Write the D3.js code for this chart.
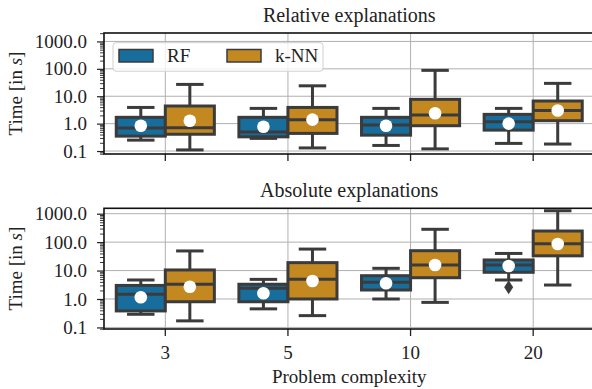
<!DOCTYPE html>
<html>
<head>
<meta charset="utf-8">
<script src="https://cdn.jsdelivr.net/npm/d3@7"></script>
<style>
  body { margin: 0; background: #fff; }
  text { font-family: "Liberation Serif", "Times New Roman", serif; fill: #222; }
</style>
</head>
<body>
<div id="chart"></div>
<script>
const width = 592;
const height = 389;

// categories and series
const categories = ["3", "5", "10", "20"];
const series = ["RF", "k-NN"];
const colors = ["#176d9c", "#c38820"];
const majorTicks = [0.1, 1, 10, 100, 1000];

// boxes: [whisker low, q1, median, q3, whisker high]
const relRF = [[0.25, 0.35, 0.70, 1.7, 3.9], [0.29, 0.33, 0.50, 1.7, 3.6], [0.16, 0.38, 0.90, 1.7, 3.6], [0.19, 0.58, 1.17, 2.18, 3.6]];
const relKNN = [[0.11, 0.41, 0.71, 4.4, 27], [0.13, 0.44, 1.4, 3.9, 24], [0.12, 0.84, 2.06, 7.7, 88], [0.18, 1.28, 3.0, 6.7, 29.5]];
const relRFMean = [0.84, 0.77, 0.84, 1.0];
const relKNNMean = [1.28, 1.4, 2.4, 3.0];

const absRF = [[0.29, 0.38, 1.46, 3.0, 4.66], [0.45, 0.8, 2.4, 3.3, 4.9], [1.0, 2.07, 3.9, 6.6, 12], [4.66, 8.7, 15.7, 23.6, 40]];
const absKNN = [[0.17, 0.8, 3.3, 10.5, 49], [0.26, 1.0, 4.9, 19, 57], [0.76, 5.6, 15.7, 50, 283], [3.1, 33, 88, 246, 1270]];
const absRFMean = [1.15, 1.59, 3.6, 14.5];
const absKNNMean = [2.7, 4.3, 15.7, 86];
const absRFOutliers = [[], [], [], [2.6]];
const absKNNOutliers = [[], [], [], []];

const edge = "#3b3b3b";
const left = 104, right = 594.5;

const svg = d3.select("#chart")
  .append("svg")
  .attr("width", width)
  .attr("height", height);

const x = d3.scaleBand().domain(categories).range([left, right]);
const bw = x.bandwidth();
const xSub = d3.scaleBand().domain(series).range([-bw * 0.4, bw * 0.4]);
const boxW = xSub.bandwidth();
const capW = boxW * 0.56;

function drawPanel(top, bottom, domain, title, boxes, means, outliers, showLabels) {
  const y = d3.scaleLog().domain(domain).range([bottom, top]);
  const g = svg.append("g");

  // grid
  g.selectAll(".hgrid")
    .data(majorTicks)
    .join("line")
    .attr("x1", left).attr("x2", right)
    .attr("y1", d => y(d)).attr("y2", d => y(d))
    .attr("stroke", "#b0b0b0").attr("stroke-width", 1);
  g.selectAll(".vgrid")
    .data(categories)
    .join("line")
    .attr("x1", d => x(d) + bw / 2).attr("x2", d => x(d) + bw / 2)
    .attr("y1", top).attr("y2", bottom)
    .attr("stroke", "#b0b0b0").attr("stroke-width", 1);

  // boxes
  series.forEach((s, si) => {
    const cx = c => x(c) + bw / 2 + xSub(s) + boxW / 2;
    const data = categories.map((c, i) => ({ c, v: boxes[si][i], m: means[si][i], o: outliers[si][i] }));
    const bg = g.append("g");

    bg.selectAll(".whisk")
      .data(data.flatMap(d => [[d, d.v[0], d.v[1]], [d, d.v[3], d.v[4]]]))
      .join("line")
      .attr("x1", d => cx(d[0].c)).attr("x2", d => cx(d[0].c))
      .attr("y1", d => y(d[1])).attr("y2", d => y(d[2]))
      .attr("stroke", edge).attr("stroke-width", 3);

    bg.selectAll(".cap")
      .data(data.flatMap(d => [[d, d.v[0]], [d, d.v[4]]]))
      .join("line")
      .attr("x1", d => cx(d[0].c) - capW / 2).attr("x2", d => cx(d[0].c) + capW / 2)
      .attr("y1", d => y(d[1])).attr("y2", d => y(d[1]))
      .attr("stroke", edge).attr("stroke-width", 3);

    bg.selectAll(".box")
      .data(data)
      .join("rect")
      .attr("x", d => cx(d.c) - boxW / 2)
      .attr("width", boxW)
      .attr("y", d => y(d.v[3]))
      .attr("height", d => y(d.v[1]) - y(d.v[3]))
      .attr("fill", colors[si])
      .attr("stroke", edge).attr("stroke-width", 3);

    bg.selectAll(".med")
      .data(data)
      .join("line")
      .attr("x1", d => cx(d.c) - boxW / 2).attr("x2", d => cx(d.c) + boxW / 2)
      .attr("y1", d => y(d.v[2])).attr("y2", d => y(d.v[2]))
      .attr("stroke", edge).attr("stroke-width", 3);

    bg.selectAll(".out")
      .data(data.flatMap(d => d.o.map(v => [d, v])))
      .join("path")
      .attr("d", d => {
        const px = cx(d[0].c), py = y(d[1]);
        return `M${px},${py - 7}L${px + 4.5},${py}L${px},${py + 7}L${px - 4.5},${py}Z`;
      })
      .attr("fill", edge);

    bg.selectAll(".mean")
      .data(data)
      .join("circle")
      .attr("cx", d => cx(d.c))
      .attr("cy", d => y(d.m))
      .attr("r", 6.3)
      .attr("fill", "#fff");
  });

  // y axis major + minor ticks
  const yAxis = g.append("g")
    .attr("transform", `translate(${left},0)`)
    .call(d3.axisLeft(y).tickValues(majorTicks).tickFormat(d3.format(".1f")).tickSize(7).tickPadding(10));
  yAxis.select(".domain").remove();
  yAxis.selectAll("text").attr("font-size", 19).attr("font-family", "Liberation Serif").attr("fill", "#222");
  yAxis.selectAll("line").attr("stroke", "#222").attr("stroke-width", 1.2);

  const minors = [];
  [-2, -1, 0, 1, 2, 3].forEach(e => {
    for (let k = 2; k <= 9; k++) {
      const v = k * Math.pow(10, e);
      if (v >= domain[0] && v <= domain[1]) minors.push(v);
    }
  });
  const yMinor = g.append("g")
    .attr("transform", `translate(${left},0)`)
    .call(d3.axisLeft(y).tickValues(minors).tickFormat("").tickSize(4));
  yMinor.select(".domain").remove();
  yMinor.selectAll("line").attr("stroke", "#222").attr("stroke-width", 0.9);

  // x axis
  const xAxis = g.append("g")
    .attr("transform", `translate(0,${bottom})`)
    .call(d3.axisBottom(x).tickSize(7).tickPadding(10).tickFormat(showLabels ? d => d : ""));
  xAxis.select(".domain").remove();
  xAxis.selectAll("text").attr("font-size", 19).attr("font-family", "Liberation Serif").attr("fill", "#222");
  xAxis.selectAll("line").attr("stroke", "#222").attr("stroke-width", 1.3);

  // frame
  g.append("rect")
    .attr("x", left).attr("y", top)
    .attr("width", right - left).attr("height", bottom - top)
    .attr("fill", "none").attr("stroke", "#111").attr("stroke-width", 1.6);

  // title
  g.append("text")
    .attr("x", (left + right) / 2)
    .attr("y", top - 11)
    .attr("text-anchor", "middle")
    .attr("font-size", 20)
    .text(title);

  // y label
  const yl = g.append("text")
    .attr("transform", `translate(22,${(top + bottom) / 2}) rotate(-90)`)
    .attr("text-anchor", "middle")
    .attr("font-size", 19);
  yl.append("tspan").text("Time [in ");
  yl.append("tspan").attr("font-style", "italic").text("s");
  yl.append("tspan").text("]");

  return g;
}

drawPanel(33, 154, [0.078, 2030], "Relative explanations",
  [relRF, relKNN], [relRFMean, relKNNMean], [[[], [], [], []], [[], [], [], []]], false);
drawPanel(208.3, 329, [0.088, 1550], "Absolute explanations",
  [absRF, absKNN], [absRFMean, absKNNMean], [absRFOutliers, absKNNOutliers], true);

// x label
svg.append("text")
  .attr("x", (left + right) / 2)
  .attr("y", 382.5)
  .attr("text-anchor", "middle")
  .attr("font-size", 19)
  .text("Problem complexity");

// legend
const legend = svg.append("g");
legend.append("rect")
  .attr("x", 113).attr("y", 42.7)
  .attr("width", 210).attr("height", 28.5)
  .attr("rx", 3)
  .attr("fill", "#fff").attr("fill-opacity", 0.8)
  .attr("stroke", "#d0d0d0").attr("stroke-width", 1);
const legendX = [119, 227];
series.forEach((s, i) => {
  legend.append("rect")
    .attr("x", legendX[i]).attr("y", 49.5)
    .attr("width", 34).attr("height", 12.5)
    .attr("fill", colors[i])
    .attr("stroke", edge).attr("stroke-width", 1.5);
  legend.append("text")
    .attr("x", legendX[i] + 48).attr("y", 62)
    .attr("font-size", 19)
    .text(s);
});
</script>
</body>
</html>
